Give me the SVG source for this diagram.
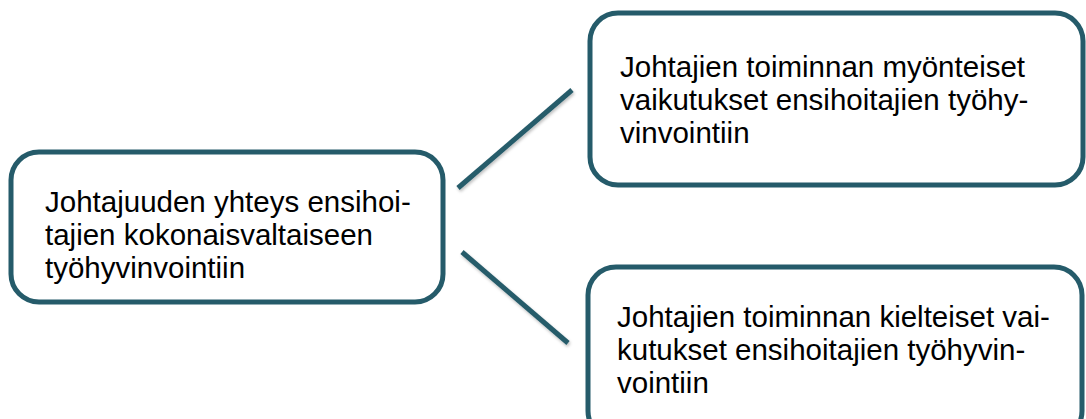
<svg xmlns="http://www.w3.org/2000/svg" width="1086" height="419" viewBox="0 0 1086 419">
<defs>
<filter id="sh" x="-10%" y="-10%" width="120%" height="130%">
<feDropShadow dx="1" dy="2" stdDeviation="1.5" flood-color="#000" flood-opacity="0.25"/>
</filter>
<style>
.box{fill:#fff;stroke:#255b6a;stroke-width:5}
.txt{font-family:"Liberation Sans",Arial,sans-serif;font-size:29.5px;fill:#000}
.ln{stroke:#255b6a;stroke-width:5;fill:none}
</style>
</defs>
<rect width="1086" height="419" fill="#fff"/>
<g id="connectors" filter="url(#sh)">
<line class="ln" x1="458" y1="188" x2="572" y2="90"/>
<line class="ln" x1="462" y1="252" x2="568" y2="343"/>
</g>
<g id="node-main">
<rect class="box" x="11" y="152" width="432" height="150" rx="28"/>
<text class="txt"><tspan x="45" y="212">Johtajuuden yhteys ensihoi-</tspan><tspan x="45" y="245">tajien kokonaisvaltaiseen</tspan><tspan x="45" y="278">työhyvinvointiin</tspan></text>
</g>
<g id="node-positive">
<rect class="box" x="590" y="13" width="493" height="172" rx="28"/>
<text class="txt"><tspan x="620" y="77">Johtajien toiminnan myönteiset</tspan><tspan x="620" y="110">vaikutukset ensihoitajien työhy-</tspan><tspan x="620" y="143">vinvointiin</tspan></text>
</g>
<g id="node-negative">
<rect class="box" x="588" y="267" width="494" height="172" rx="28"/>
<text class="txt"><tspan x="617" y="327">Johtajien toiminnan kielteiset vai-</tspan><tspan x="617" y="360">kutukset ensihoitajien työhyvin-</tspan><tspan x="617" y="393">vointiin</tspan></text>
</g>
</svg>
